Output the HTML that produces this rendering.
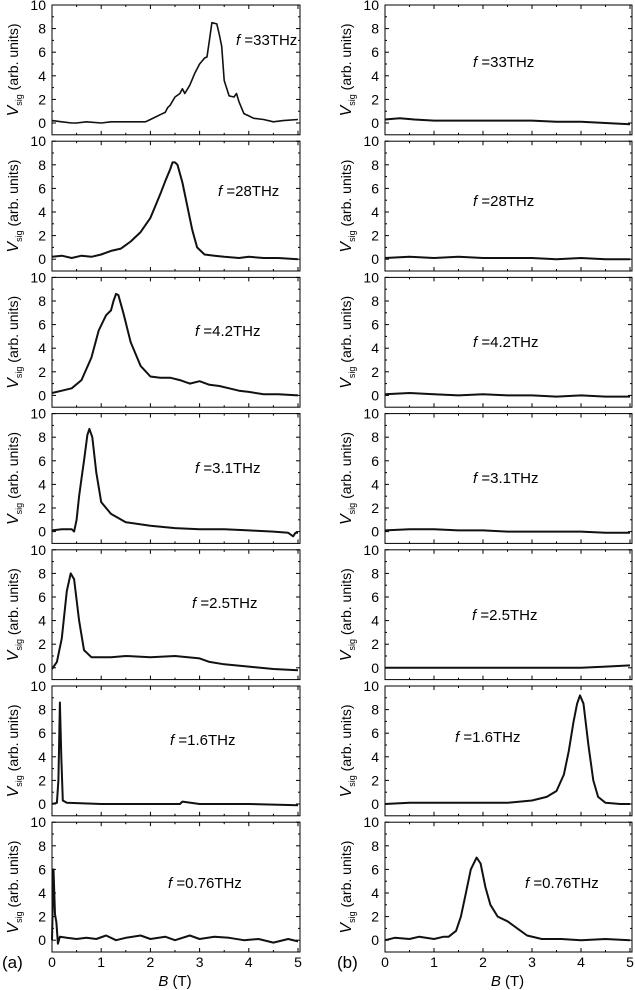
<!DOCTYPE html>
<html><head><meta charset="utf-8">
<style>
html,body{margin:0;padding:0;background:#fff;}
svg{display:block;font-family:"Liberation Sans",Arial,sans-serif;}
</style></head>
<body>
<svg id="fig" width="635" height="990" viewBox="0 0 635 990" xmlns="http://www.w3.org/2000/svg"></svg>
<script>
// ---- data ----
const freqLabels = ["33THz","28THz","4.2THz","3.1THz","2.5THz","1.6THz","0.76THz"];
const xTicks = [0,1,2,3,4,5];
const yTicks = [0,2,4,6,8,10];
const a1B=[0,0.2,0.4,0.5,0.7,1.0,1.2,1.5,1.7,1.9,2.0,2.1,2.2,2.3,2.35,2.4,2.5,2.6,2.65,2.7,2.8,2.9,3.0,3.1,3.15,3.2,3.25,3.35,3.4,3.45,3.5,3.6,3.7,3.75,3.8,3.9,4.0,4.1,4.3,4.5,4.7,5.0];
const a1V=[0.2,0.1,0.0,0.0,0.1,0.0,0.1,0.1,0.1,0.1,0.3,0.5,0.7,0.9,1.3,1.5,2.2,2.5,2.9,2.5,3.2,4.2,5.0,5.5,5.6,7.0,8.5,8.4,7.5,6.5,3.6,2.3,2.2,2.5,1.8,0.8,0.6,0.4,0.3,0.1,0.2,0.3];
const a2B=[0,0.2,0.4,0.6,0.8,1.0,1.2,1.4,1.6,1.8,2.0,2.1,2.2,2.3,2.4,2.45,2.5,2.55,2.65,2.75,2.85,2.95,3.1,3.3,3.5,3.8,4.0,4.3,4.6,5.0];
const a2V=[0.2,0.3,0.1,0.3,0.2,0.4,0.7,0.9,1.5,2.3,3.5,4.5,5.5,6.6,7.6,8.2,8.2,8.0,6.5,4.5,2.5,1.0,0.4,0.3,0.2,0.1,0.2,0.1,0.1,0.0];
const a3B=[0,0.2,0.4,0.6,0.8,0.95,1.1,1.2,1.25,1.3,1.35,1.45,1.6,1.8,2.0,2.2,2.4,2.6,2.8,3.0,3.2,3.4,3.6,3.8,4.0,4.3,4.6,5.0];
const a3V=[0.2,0.4,0.6,1.3,3.2,5.5,6.8,7.2,8.0,8.6,8.5,7.0,4.5,2.5,1.6,1.5,1.5,1.3,1.0,1.2,0.9,0.8,0.6,0.4,0.3,0.1,0.1,0.0];
const a4B=[0,0.2,0.4,0.45,0.5,0.55,0.6,0.65,0.72,0.76,0.82,0.9,1.0,1.1,1.2,1.5,2.0,2.5,3.0,3.5,4.0,4.5,4.8,4.9,4.95,5.0];
const a4V=[0.1,0.2,0.2,0.0,1.0,3.0,4.5,6.0,8.2,8.7,8.0,5.0,2.5,2.0,1.5,0.8,0.5,0.3,0.2,0.2,0.1,0.0,-0.1,-0.4,-0.1,-0.1];
const a5B=[0,0.1,0.2,0.3,0.38,0.45,0.55,0.65,0.8,1.0,1.2,1.5,2.0,2.5,3.0,3.2,3.5,4.0,4.5,5.0];
const a5V=[-0.1,0.5,2.5,6.5,8.0,7.5,4.0,1.5,0.9,0.9,0.9,1.0,0.9,1.0,0.8,0.5,0.3,0.1,-0.1,-0.2];
const a6B=[0,0.1,0.13,0.16,0.19,0.22,0.3,1.0,2.0,2.6,2.65,3.0,4.0,5.0];
const a6V=[0.0,0.1,2.0,8.6,4.0,0.3,0.1,0.0,0.0,0.0,0.2,0.0,0.0,-0.1];
const a7B=[0,0.03,0.06,0.09,0.12,0.16,0.3,0.5,0.7,0.9,1.1,1.3,1.5,1.8,2.0,2.3,2.5,2.8,3.0,3.3,3.6,3.9,4.2,4.5,4.8,5.0];
const a7V=[0.0,6.0,2.2,1.5,-0.3,0.3,0.2,0.1,0.2,0.1,0.4,0.0,0.2,0.4,0.1,0.3,0.0,0.4,0.1,0.3,0.2,0.0,0.1,-0.2,0.1,-0.1];
const b1B=[0,0.3,0.6,1.0,1.5,2.0,2.5,3.0,3.5,4.0,4.5,5.0];
const b1V=[0.3,0.4,0.3,0.2,0.2,0.2,0.2,0.2,0.1,0.1,0.0,-0.1];
const b2B=[0,0.5,1.0,1.5,2.0,2.5,3.0,3.5,4.0,4.5,5.0];
const b2V=[0.1,0.2,0.1,0.2,0.1,0.1,0.1,0.0,0.1,0.0,0.0];
const b3B=[0,0.5,1.0,1.5,2.0,2.5,3.0,3.5,4.0,4.5,5.0];
const b3V=[0.1,0.2,0.1,0.0,0.1,0.0,0.0,-0.1,0.0,-0.1,-0.1];
const b4B=[0,0.5,1.0,1.5,2.0,2.5,3.0,3.5,4.0,4.5,5.0];
const b4V=[0.1,0.2,0.2,0.1,0.1,0.0,0.0,0.0,0.0,-0.1,-0.1];
const b5B=[0,0.5,1.0,1.5,2.0,2.5,3.0,3.5,4.0,4.5,5.0];
const b5V=[0.0,0.0,0.0,0.0,0.0,0.0,0.0,0.0,0.0,0.1,0.2];
const b6B=[0,0.5,1.0,1.5,2.0,2.5,3.0,3.3,3.5,3.65,3.75,3.85,3.92,3.98,4.05,4.15,4.25,4.35,4.5,4.8,5.0];
const b6V=[0.0,0.1,0.1,0.1,0.1,0.1,0.3,0.6,1.1,2.5,4.5,7.0,8.5,9.2,8.5,5.0,2.0,0.6,0.1,0.0,0.0];
const b7B=[0,0.2,0.5,0.7,1.0,1.2,1.3,1.45,1.55,1.65,1.75,1.87,1.95,2.05,2.15,2.3,2.5,2.7,2.9,3.2,3.6,4.0,4.5,5.0];
const b7V=[0.0,0.2,0.1,0.3,0.1,0.3,0.3,0.8,2.0,4.0,6.0,7.0,6.5,4.5,3.0,2.0,1.6,1.0,0.4,0.1,0.1,0.0,0.1,0.0];
const seriesA=[[a1B,a1V],[a2B,a2V],[a3B,a3V],[a4B,a4V],[a5B,a5V],[a6B,a6V],[a7B,a7V]];
const seriesB=[[b1B,b1V],[b2B,b2V],[b3B,b3V],[b4B,b4V],[b5B,b5V],[b6B,b6V],[b7B,b7V]];

// ---- layout ----
const NS="http://www.w3.org/2000/svg";
const svg=document.getElementById('fig');
function el(t,a,txt){const e=document.createElementNS(NS,t);for(const k in a)e.setAttribute(k,a[k]);if(txt!==undefined)e.textContent=txt;svg.appendChild(e);return e;}
const cols=[{x0:52,x1:298,id:'a',lx:[236,218,195,195,192,170,168],ly:[45,196,336,473,608,745,888]},
            {x0:385,x1:630,id:'b',lx:[473,473,473,473,472,455,525],ly:[67,206,347,483,620,742,888]}];
const pitch=136.2, zero0=123, unit=11.8;
cols.forEach((c,ci)=>{
  const sx=B=>c.x0+B*(c.x1-c.x0)/5;
  for(let p=0;p<7;p++){
    const z=zero0+p*pitch;
    const sy=v=>z-v*unit;
    const top=sy(10), bot=sy(-1);
    let r=el('rect',{x:c.x0,y:top,width:c.x1-c.x0+2,height:bot-top,fill:'none',stroke:'#000','stroke-width':1});
    
    
    for(let v=0;v<=10;v++){
      const L=v%2===0?4:2;
      el('line',{x1:c.x0,x2:c.x0+L,y1:sy(v),y2:sy(v),stroke:'#000','stroke-width':1});
      el('line',{x1:c.x1+2,x2:c.x1+2-L,y1:sy(v),y2:sy(v),stroke:'#000','stroke-width':1});
    }
    yTicks.forEach(v=>{
      const t=el('text',{x:c.x0-6,y:sy(v)+5,'text-anchor':'end','font-size':14},String(v));
      
      
    });
    for(let b=0;b<=10;b++){
      const L=b%2===0?4:2;
      el('line',{x1:sx(b/2),x2:sx(b/2),y1:top,y2:top+L,stroke:'#000','stroke-width':1});
      el('line',{x1:sx(b/2),x2:sx(b/2),y1:bot,y2:bot-L,stroke:'#000','stroke-width':1});
    }
    const cy=(top+bot)/2;
    const yt=el('text',{x:0,y:0,'font-size':14,'text-anchor':'middle',transform:`translate(${c.x0-34},${cy}) rotate(-90)`});
    
    
    yt.innerHTML='<tspan font-style="italic" font-size="16">V</tspan><tspan font-size="9" dy="4">sig</tspan><tspan dy="-4"> (arb. units)</tspan>';
    const s=(ci===0?seriesA:seriesB)[p];
    let d='';
    for(let i=0;i<s[0].length;i++)d+=(i?'L':'M')+sx(s[0][i]).toFixed(1)+','+sy(s[1][i]).toFixed(1);
    const path=el('path',{d:d,fill:'none',stroke:'#111','stroke-width':p===0&&ci===0?1.6:2,'stroke-linejoin':'round'});
    
    
    const lab=el('text',{x:c.lx[p],y:c.ly[p],'font-size':15});
    
    
    lab.innerHTML='<tspan font-style="italic">f</tspan> ='+freqLabels[p];
  }
  xTicks.forEach(b=>{
    const t=el('text',{x:sx(b),y:967,'text-anchor':'middle','font-size':14},String(b));
    
    
  });
  const xt=el('text',{x:(c.x0+c.x1)/2,y:986,'text-anchor':'middle','font-size':15});
  
  
  xt.innerHTML='<tspan font-style="italic">B</tspan> (T)';
  const pl=el('text',{x:ci===0?2:337,y:968,'font-size':17},ci===0?'(a)':'(b)');
  
  
});
</script>
</body></html>
